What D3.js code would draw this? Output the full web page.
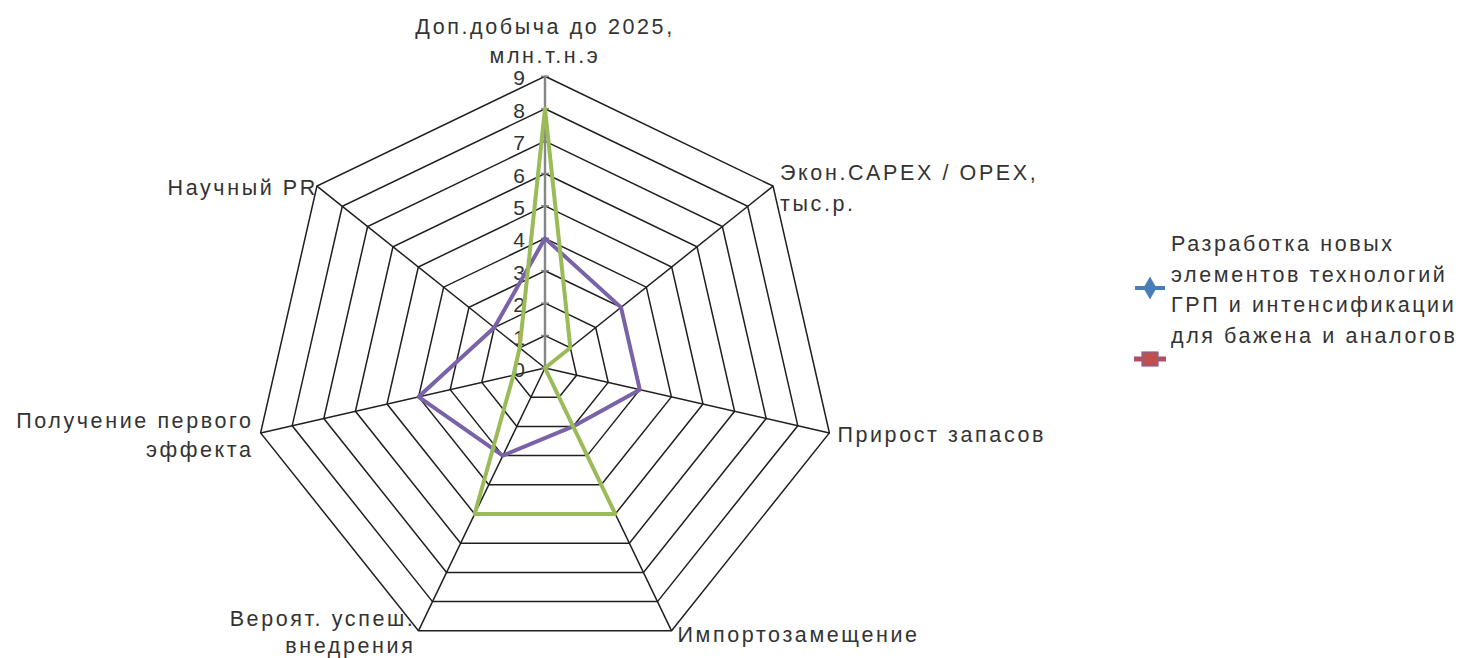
<!DOCTYPE html>
<html>
<head>
<meta charset="utf-8">
<script src="https://cdn.jsdelivr.net/npm/d3@7"></script>
<style>
  html, body { margin: 0; padding: 0; background: #fff; }
  svg { display: block; }
  text { font-family: "Liberation Sans", Arial, sans-serif; fill: #333; }
</style>
</head>
<body>
<svg id="chart" width="1462" height="658"></svg>
<script>
// Axis categories (multi-line labels)
const categories = [
  ["Доп.добыча до 2025,", "млн.т.н.э"],
  ["Экон.CAPEX / OPEX,", "тыс.р."],
  ["Прирост запасов"],
  ["Импортозамещение"],
  ["Вероят. успеш.", "внедрения"],
  ["Получение первого", "эффекта"],
  ["Научный PR"]
];

// Series values per axis
const purpleValues = [4, 3, 3, 2, 3, 4, 2];
const greenValues  = [8, 1, 0, 5, 5, 1, 1];

// Radial value ticks
const tickValues = [0, 1, 2, 3, 4, 5, 6, 7, 8, 9];

// Legend entries
const legendLabels = [
  ["Разработка новых", "элементов технологий", "ГРП и интенсификации", "для бажена и аналогов"],
  [""]
];

const svg = d3.select("#chart");
const cx = 545, cy = 368, R = 291.7;
const n = categories.length;
const FS = 21.5, LS = 2.6;

const r = d3.scaleLinear().domain([0, 9]).range([0, R]);
const angle = d3.scaleLinear().domain([0, n]).range([0, 2 * Math.PI]);

const pt = (i, v) => [cx + r(v) * Math.sin(angle(i)), cy - r(v) * Math.cos(angle(i))];

const g = svg.append("g");

// Grid polygons
const gridLine = d3.line();
tickValues.slice(1).forEach(t => {
  const pts = d3.range(n).map(i => pt(i, t));
  g.append("path")
    .attr("d", gridLine(pts) + "Z")
    .attr("fill", "none")
    .attr("stroke", "#1f1f1f")
    .attr("stroke-width", 1.5);
});

// Spokes
d3.range(1, n).forEach(i => {
  const [x, y] = pt(i, 9);
  g.append("line")
    .attr("x1", cx).attr("y1", cy).attr("x2", x).attr("y2", y)
    .attr("stroke", "#1f1f1f").attr("stroke-width", 1.5);
});

// Value axis (first spoke) with tick marks
g.append("line")
  .attr("x1", cx).attr("y1", cy).attr("x2", cx).attr("y2", cy - r(9))
  .attr("stroke", "#868686").attr("stroke-width", 2.4);
tickValues.forEach(t => {
  g.append("line")
    .attr("x1", cx - 4).attr("x2", cx + 4)
    .attr("y1", cy - r(t)).attr("y2", cy - r(t))
    .attr("stroke", "#868686").attr("stroke-width", 1.6);
});

// Tick labels
g.selectAll("text.tick")
  .data(tickValues)
  .join("text")
  .attr("class", "tick")
  .attr("x", cx - 20)
  .attr("y", d => cy - r(d) + 9)
  .attr("text-anchor", "end")
  .attr("font-size", 21)
  .text(d => d);

// Category labels: anchor and offsets from the outer vertex
const labelLayout = [
  { anchor: "middle", dx: 0,  dy: [-42.5, -13] },
  { anchor: "start",  dx: 7,  dy: [-6, 25] },
  { anchor: "start",  dx: 8,  dy: [9] },
  { anchor: "start",  dx: 6,  dy: [11] },
  { anchor: "end",    dx: -3, dy: [-5, 22] },
  { anchor: "end",    dx: -7, dy: [-4.5, 24] },
  { anchor: "end",    dx: 1,  dy: [9] }
];
categories.forEach((lines, i) => {
  const [vx, vy] = pt(i, 9);
  const L = labelLayout[i];
  lines.forEach((s, k) => {
    g.append("text")
      .attr("x", vx + L.dx)
      .attr("y", vy + L.dy[k])
      .attr("text-anchor", L.anchor)
      .attr("font-size", FS)
      .attr("letter-spacing", LS)
      .text(s);
  });
});

// Series lines
const radial = d3.lineRadial()
  .angle((d, i) => angle(i))
  .radius(d => r(d))
  .curve(d3.curveLinearClosed);

const series = [
  { values: purpleValues, color: "#7a62a8" },
  { values: greenValues,  color: "#9bbb59" }
];
series.forEach(s => {
  g.append("path")
    .attr("transform", `translate(${cx},${cy})`)
    .attr("d", radial(s.values))
    .attr("fill", "none")
    .attr("stroke", s.color)
    .attr("stroke-width", 4)
    .attr("stroke-linejoin", "round");
});

// Legend
const legend = svg.append("g");
const lx = 1150;
// entry 1: blue line with diamond marker
legend.append("line")
  .attr("x1", lx - 15).attr("x2", lx + 15).attr("y1", 288).attr("y2", 288)
  .attr("stroke", "#4a7ebb").attr("stroke-width", 4);
legend.append("path")
  .attr("d", d3.symbol().type(d3.symbolDiamond).size(150)())
  .attr("transform", `translate(${lx},288)`)
  .attr("fill", "#4a7ebb");
// entry 2: red line with square marker
legend.append("line")
  .attr("x1", lx - 16).attr("x2", lx + 16).attr("y1", 359).attr("y2", 359)
  .attr("stroke", "#b24d64").attr("stroke-width", 5);
legend.append("rect")
  .attr("x", lx - 8).attr("y", 352).attr("width", 16).attr("height", 14)
  .attr("fill", "#c0504d").attr("stroke", "#8064a2").attr("stroke-width", 1.2);

legendLabels[0].forEach((s, k) => {
  legend.append("text")
    .attr("x", 1171)
    .attr("y", 251 + k * 30.7)
    .attr("font-size", FS)
    .attr("letter-spacing", LS)
    .text(s);
});
</script>
</body>
</html>
